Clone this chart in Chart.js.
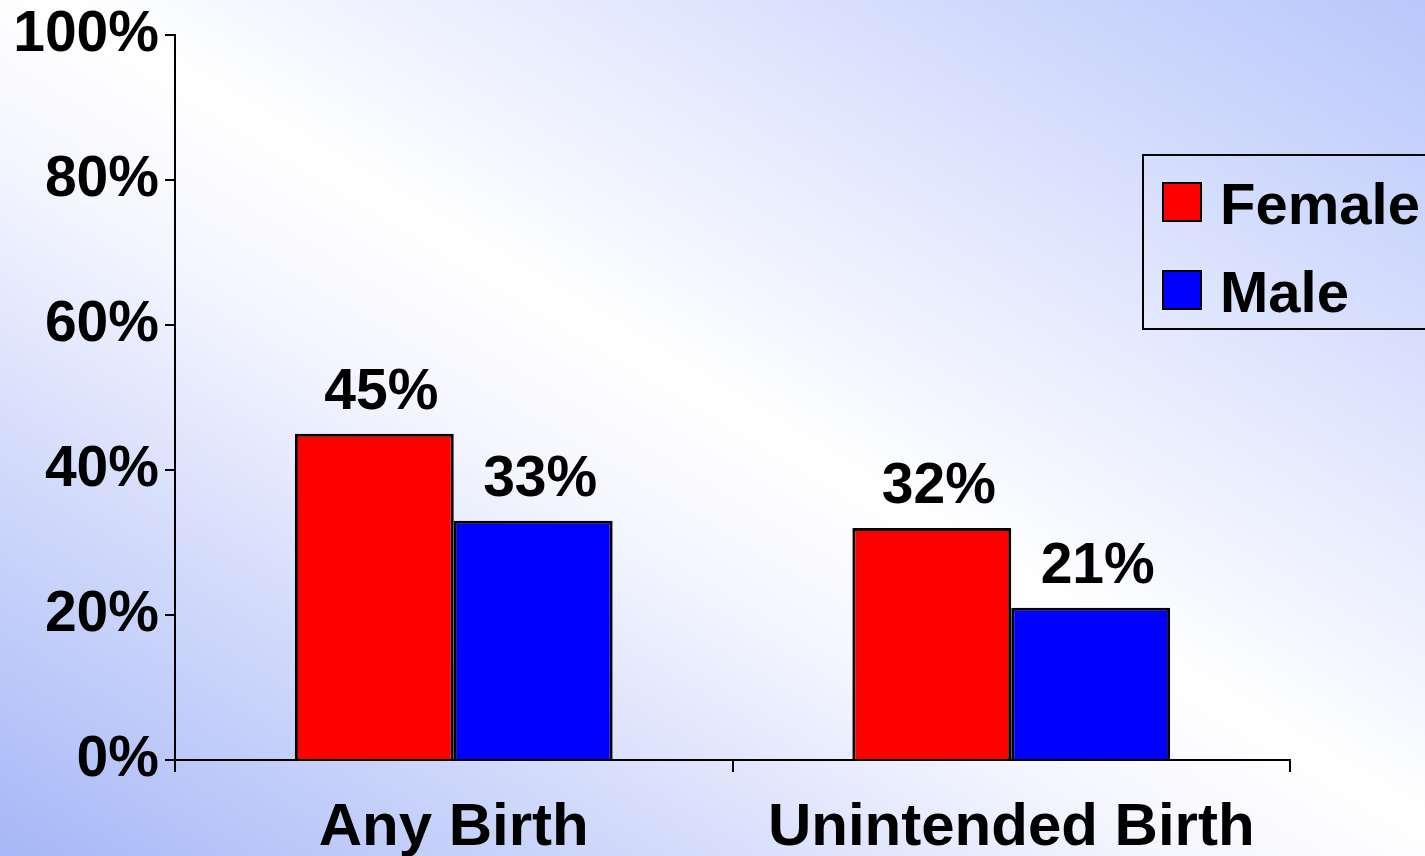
<!DOCTYPE html>
<html>
<head>
<meta charset="utf-8">
<script src="https://cdn.jsdelivr.net/npm/chart.js@4/dist/chart.umd.min.js"></script>
<style>
    html, body { margin: 0; padding: 0; }
    body {
        width: 1425px; height: 856px; overflow: hidden;
        background: linear-gradient(to top right, #a6b7f7 0%, #f6f7fe 42%, #ffffff 52%, #b9c7fb 100%);
    }
    #wrap { width: 1425px; height: 856px; position: relative; }
</style>
</head>
<body>
<div id="wrap"><canvas id="birthChart"></canvas></div>
<script>
const categories = ['Any Birth', 'Unintended Birth'];
const seriesNames = ['Female', 'Male'];
const femaleValues = [45, 32];
const maleValues = [33, 21];
const yTicks = [0, 20, 40, 60, 80, 100];

const FONT = '"Liberation Sans", Arial, sans-serif';

// value labels above each bar
const barLabels = {
    id: 'barLabels',
    afterDatasetsDraw(chart) {
        const ctx = chart.ctx;
        ctx.save();
        ctx.font = 'bold 57px ' + FONT;
        ctx.fillStyle = '#000';
        ctx.textAlign = 'center';
        ctx.textBaseline = 'alphabetic';
        chart.data.datasets.forEach((ds, i) => {
            chart.getDatasetMeta(i).data.forEach((bar, j) => {
                ctx.fillText(ds.data[j] + '%', bar.x + 7, bar.y - 25);
            });
        });
        ctx.restore();
    }
};

// boxed legend sitting over the plot, cut off at the right edge
const boxLegend = {
    id: 'boxLegend',
    afterDraw(chart) {
        const ctx = chart.ctx;
        ctx.save();
        ctx.lineWidth = 2;
        ctx.strokeStyle = '#000';
        ctx.strokeRect(1143, 155, 300, 174);
        ctx.font = 'bold 58px ' + FONT;
        ctx.textAlign = 'left';
        ctx.textBaseline = 'middle';
        chart.data.datasets.forEach((ds, i) => {
            const y = 183 + i * 88;
            ctx.fillStyle = ds.backgroundColor;
            ctx.fillRect(1163, y, 38, 38);
            ctx.strokeRect(1163, y, 38, 38);
            ctx.fillStyle = '#000';
            ctx.fillText(ds.label, 1220, y + 25);
        });
        ctx.restore();
    }
};

new Chart(document.getElementById('birthChart'), {
    type: 'bar',
    data: {
        labels: categories,
        datasets: [
            { label: seriesNames[0], data: femaleValues, backgroundColor: '#ff0000', borderColor: '#000', borderWidth: 3 },
            { label: seriesNames[1], data: maleValues, backgroundColor: '#0000ff', borderColor: '#000', borderWidth: 3 }
        ]
    },
    options: {
        responsive: true,
        maintainAspectRatio: false,
        animation: false,
        layout: { padding: { top: 35, right: 135, left: 0, bottom: 0 } },
        datasets: { bar: { categoryPercentage: 0.57, barPercentage: 1.0 } },
        plugins: { legend: { display: false }, tooltip: { enabled: false } },
        scales: {
            x: {
                afterFit: s => { s.height = 96; },
                border: { display: true, color: '#000', width: 2 },
                grid: { drawOnChartArea: false, drawTicks: true, tickLength: 12, color: '#000', lineWidth: 2, offset: true },
                ticks: { color: '#000', font: { family: FONT, size: 60, weight: 'bold' }, padding: 20, maxRotation: 0 }
            },
            y: {
                min: 0,
                max: 100,
                afterFit: s => { s.width = 175; },
                afterBuildTicks: s => { s.ticks = yTicks.map(v => ({ value: v })); },
                border: { display: true, color: '#000', width: 2 },
                grid: { drawOnChartArea: false, drawTicks: true, tickLength: 10, color: '#000', lineWidth: 2 },
                ticks: {
                    color: '#000',
                    padding: 6,
                    font: { family: FONT, size: 57, weight: 'bold', lineHeight: 1 },
                    callback: v => v + '%'
                }
            }
        }
    },
    plugins: [barLabels, boxLegend]
});
</script>
</body>
</html>
